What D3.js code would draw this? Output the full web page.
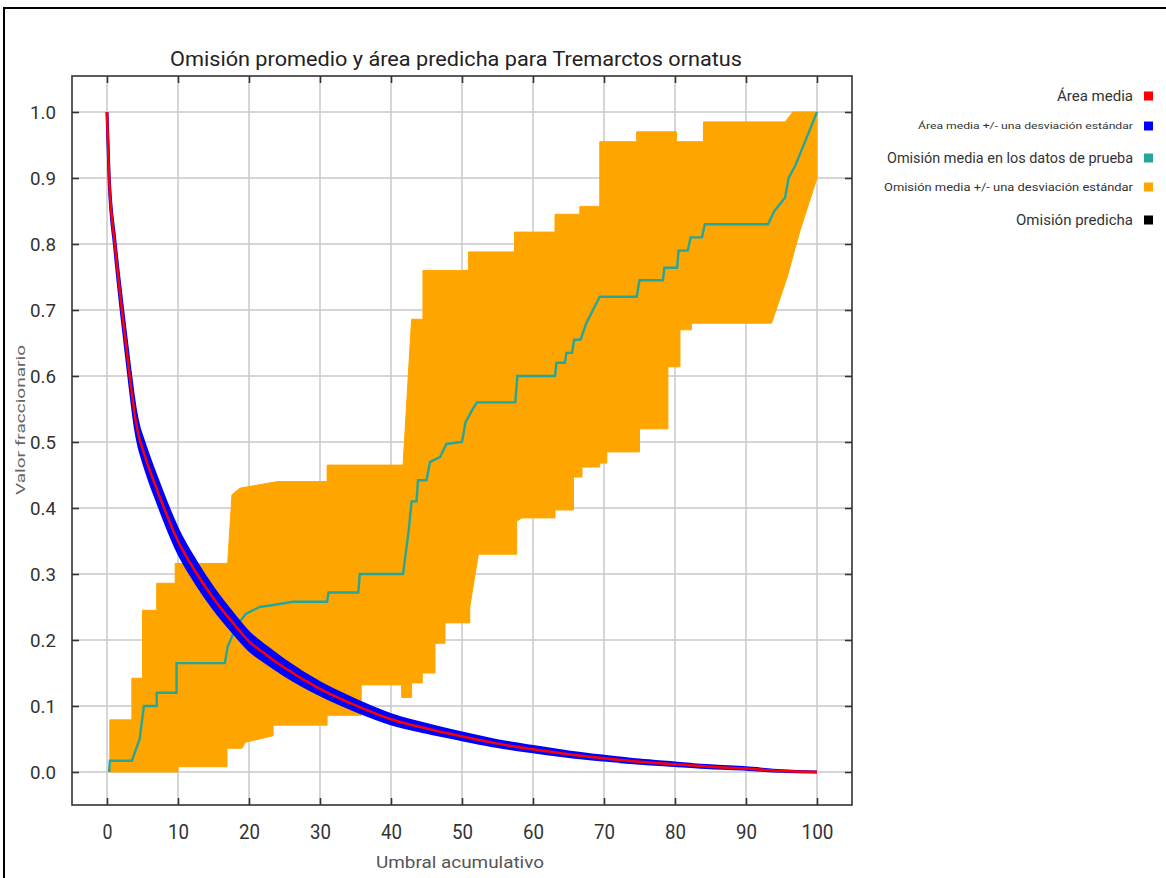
<!DOCTYPE html>
<html><head><meta charset="utf-8">
<script src="https://cdn.jsdelivr.net/npm/d3@7"></script>
<style>
body{margin:0;background:#fff}
svg{display:block}
text{font-family:Roboto,"Liberation Sans",sans-serif}
</style></head>
<body><svg id="c" width="1166" height="878"></svg>
<script>
// ---------- DATA ----------
const xTicks = [0,10,20,30,40,50,60,70,80,90,100];
const yTicks = [0,0.1,0.2,0.3,0.4,0.5,0.6,0.7,0.8,0.9,1.0];

// Área media (mean fractional predicted area) and its std. deviation
const areaX    = [0,0.3,1.1,2.1,3.2,4.0,4.5,5,6,7,8.4,10,12.5,15,17.5,20,22.5,25,30,35,40,45,50,55,60,65,70,75,80,85,90,95,100];
const areaMean = [1.0,0.9,0.8,0.7,0.6,0.535,0.508,0.49,0.458,0.429,0.39,0.35,0.303,0.263,0.229,0.198,0.177,0.158,0.126,0.101,0.08,0.066,0.054,0.043,0.0345,0.027,0.021,0.0157,0.0118,0.0079,0.0053,0.0015,0.0];
const areaSD   = [0,0.004,0.007,0.01,0.012,0.014,0.015,0.016,0.017,0.017,0.017,0.017,0.016,0.015,0.014,0.013,0.012,0.011,0.009,0.008,0.007,0.006,0.005,0.0045,0.004,0.0035,0.003,0.0025,0.002,0.0015,0.001,0.0005,0];

// Omisión media en los datos de prueba (step line)
const omisX = [0.3,0.4,3.5,4.6,5.2,7,7,9.8,9.8,16.6,17,17.8,18.5,19.6,21.5,23.4,26.2,31,31.2,35.4,35.6,41.7,42.5,42.9,43.6,43.8,45,45.5,46.9,47.8,50,50.5,51.4,52.1,57.5,57.8,63.1,63.3,64.5,64.7,65.5,65.8,66.7,67.5,69.4,74.6,75,78.3,78.5,80.3,80.5,81.8,82.2,83.8,84.2,93.1,94,95.5,96,97,98.5,100];
const omisY = [0,0.017,0.017,0.05,0.1,0.1,0.12,0.12,0.165,0.165,0.19,0.21,0.225,0.24,0.25,0.253,0.258,0.258,0.272,0.272,0.3,0.3,0.367,0.41,0.41,0.442,0.442,0.47,0.477,0.497,0.5,0.53,0.548,0.56,0.56,0.6,0.6,0.62,0.62,0.635,0.635,0.655,0.655,0.68,0.72,0.72,0.745,0.745,0.764,0.764,0.79,0.79,0.81,0.81,0.83,0.83,0.85,0.87,0.9,0.92,0.96,1.0];

// Omisión media +/- una desviación estándar (band edges)
const bandUpperX = [0.4,3.5,3.5,5,5,7,7,9.6,9.6,17.0,17.6,18.7,24,31,31,41.7,42.9,44.5,44.5,50.9,50.9,57.4,57.4,63.1,63.1,66.6,66.6,69.4,69.4,74.6,74.6,80.2,80.2,84,84,95.5,96.6,100];
const bandUpperY = [0.079,0.079,0.142,0.142,0.245,0.245,0.286,0.286,0.316,0.316,0.42,0.43,0.44,0.44,0.465,0.465,0.686,0.686,0.76,0.76,0.788,0.788,0.818,0.818,0.845,0.845,0.857,0.857,0.955,0.955,0.97,0.97,0.955,0.955,0.985,0.985,1.0,1.0];
const bandLowerX = [0.4,10,10,16.9,16.9,19,19.5,23.4,23.4,31,31,35.8,35.8,41.5,41.5,42.9,42.9,44.4,44.4,46.2,46.2,47.6,47.6,51.1,51.1,52.3,57.7,57.7,58.4,63.1,63.1,65.7,65.7,66.9,66.9,69.4,69.4,70.4,70.4,75,75,79,79,80.7,80.7,82.3,82.3,93.6,95.8,97.6,99.4,100];
const bandLowerY = [0,0,0.008,0.008,0.036,0.036,0.045,0.055,0.071,0.071,0.086,0.086,0.132,0.132,0.113,0.113,0.135,0.135,0.15,0.15,0.195,0.195,0.226,0.226,0.25,0.33,0.33,0.38,0.385,0.385,0.397,0.397,0.447,0.447,0.462,0.462,0.468,0.468,0.485,0.485,0.52,0.52,0.614,0.614,0.67,0.67,0.68,0.68,0.75,0.82,0.88,0.9];

const titleText = "Omisión promedio y área predicha para Tremarctos ornatus";
const xTitle = "Umbral acumulativo";
const yTitle = "Valor fraccionario";
const legendLabels = ["Área media","Área media +/- una desviación estándar","Omisión media en los datos de prueba","Omisión media +/- una desviación estándar","Omisión predicha"];
const legendColors = ["#ff0000","#0000ff","#26a69a","#ffa500","#000000"];

// ---------- LAYOUT ----------
const frame = {left:72, right:852, top:76, bottom:805};
const legendStyle = [
  {y:96, size:14, len:76},
  {y:126, size:9.5, len:215},
  {y:158, size:14, len:246},
  {y:187, size:10, len:249},
  {y:220, size:14, len:117}
];

const svg = d3.select("#c");
const x = d3.scaleLinear().domain([0,100]).range([107,817]);
const y = d3.scaleLinear().domain([0,1]).range([772,112]);

// outer border
svg.append("path").attr("d","M4,878 L4,8 L1166,8").attr("fill","none").attr("stroke","#000").attr("stroke-width",2);

// title
svg.append("text").attr("x",456).attr("y",66).attr("text-anchor","middle")
  .attr("font-size",21).attr("fill","#222")
  .attr("textLength",572).attr("lengthAdjust","spacingAndGlyphs").text(titleText);

// grid
const g = svg.append("g");
g.selectAll("line.gx").data(xTicks).join("line").attr("class","gx")
  .attr("x1",d=>x(d)).attr("x2",d=>x(d)).attr("y1",frame.top).attr("y2",frame.bottom)
  .attr("stroke","#c8c8c8").attr("stroke-width",1.5);
g.selectAll("line.gy").data(yTicks).join("line").attr("class","gy")
  .attr("y1",d=>y(d)).attr("y2",d=>y(d)).attr("x1",frame.left).attr("x2",frame.right)
  .attr("stroke","#c8c8c8").attr("stroke-width",1.5);

// orange band
const upper = bandUpperX.map((v,i)=>[v,bandUpperY[i]]);
const lower = bandLowerX.map((v,i)=>[v,bandLowerY[i]]);
const poly = upper.concat(lower.slice().reverse());
const lineGen = d3.line().x(d=>x(d[0])).y(d=>y(d[1]));
svg.append("path").attr("d",lineGen(poly)+"Z").attr("fill","#ffa500").attr("stroke","#ffa500").attr("stroke-width",1);

// green omission line
const omis = omisX.map((v,i)=>[v,omisY[i]]);
svg.append("path").attr("d",lineGen(omis)).attr("fill","none").attr("stroke","#26a69a").attr("stroke-width",2.4);

// blue sd band
const areaPts = areaX.map((v,i)=>({x:v,m:areaMean[i],s:areaSD[i]}));
const bandArea = d3.area().x(d=>x(d.x)).y0(d=>y(d.m-d.s)).y1(d=>y(d.m+d.s)).curve(d3.curveMonotoneX);
svg.append("path").attr("d",bandArea(areaPts)).attr("fill","#0000ff").attr("stroke","#0000ff").attr("stroke-width",3);

// red mean line
const meanLine = d3.line().x(d=>x(d.x)).y(d=>y(d.m)).curve(d3.curveMonotoneX);
svg.append("path").attr("d",meanLine(areaPts)).attr("fill","none").attr("stroke","#ff0000").attr("stroke-width",2.5);

// frame
svg.append("rect").attr("x",frame.left).attr("y",frame.top)
  .attr("width",frame.right-frame.left).attr("height",frame.bottom-frame.top)
  .attr("fill","none").attr("stroke","#333").attr("stroke-width",1.6);

// axes
const ax = svg.append("g").attr("transform",`translate(0,${frame.bottom})`)
  .call(d3.axisBottom(x).tickValues(xTicks).tickSizeInner(-7).tickSizeOuter(0).tickPadding(20));
const ay = svg.append("g").attr("transform",`translate(${frame.left},0)`)
  .call(d3.axisLeft(y).tickValues(yTicks).tickFormat(d3.format(".1f")).tickSizeInner(-7).tickSizeOuter(0).tickPadding(16));
const at = svg.append("g").attr("transform",`translate(0,${frame.top})`)
  .call(d3.axisTop(x).tickValues(xTicks).tickFormat("").tickSizeInner(-7).tickSizeOuter(0));
const ar = svg.append("g").attr("transform",`translate(${frame.right},0)`)
  .call(d3.axisRight(y).tickValues(yTicks).tickFormat("").tickSizeInner(-7).tickSizeOuter(0));
[ax,ay,at,ar].forEach(a=>{
  a.select(".domain").remove();
  a.selectAll(".tick line").attr("stroke","#333").attr("stroke-width",1.6);
});
ax.selectAll(".tick text").attr("font-size",20).attr("fill","#333")
  .attr("font-family","Roboto, sans-serif")
  .attr("textLength",d=>String(d).length*11-1).attr("lengthAdjust","spacingAndGlyphs");
ay.selectAll(".tick text").attr("font-size",19).attr("fill","#333")
  .attr("font-family","Roboto, sans-serif")
  .attr("textLength",26).attr("lengthAdjust","spacingAndGlyphs");

// axis titles
svg.append("text").attr("x",460).attr("y",868).attr("text-anchor","middle")
  .attr("font-size",16).attr("fill","#555")
  .attr("textLength",168).attr("lengthAdjust","spacingAndGlyphs").text(xTitle);
svg.append("text").attr("transform","translate(25,420) rotate(-90)").attr("text-anchor","middle")
  .attr("font-size",12.5).attr("fill","#666")
  .attr("textLength",150).attr("lengthAdjust","spacingAndGlyphs").text(yTitle);

// legend
const lg = svg.append("g");
legendLabels.forEach((lab,i)=>{
  const st = legendStyle[i];
  lg.append("text").attr("x",1133).attr("y",st.y).attr("dy","0.35em").attr("text-anchor","end")
    .attr("font-size",st.size).attr("fill","#333")
    .attr("textLength",st.len).attr("lengthAdjust","spacingAndGlyphs").text(lab);
  lg.append("rect").attr("x",1144).attr("y",st.y-4.5).attr("width",9).attr("height",9).attr("fill",legendColors[i]);
});
</script></body></html>
